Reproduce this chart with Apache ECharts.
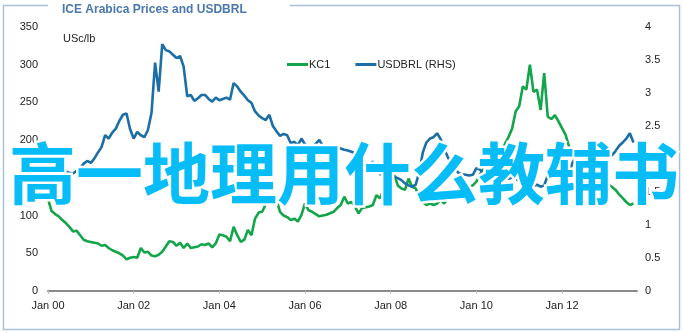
<!DOCTYPE html>
<html>
<head>
<meta charset="utf-8">
<script src="https://cdn.jsdelivr.net/npm/echarts@6/dist/echarts.min.js"></script>
<style>html,body{margin:0;padding:0;background:#fff}#c{width:683px;height:333px}</style>
</head>
<body>
<div id="c"></div>
<script>
// ---- data (monthly, Jan 2000 - Sep 2013) ----
const titleText = 'ICE Arabica Prices and USDBRL';
const overlayText = '高一地理用什么教辅书';
const unitLabel = 'USc/lb';
const seriesNames = ['KC1', 'USDBRL (RHS)'];
const tickLabels = ['Jan 00', 'Jan 02', 'Jan 04', 'Jan 06', 'Jan 08', 'Jan 10', 'Jan 12'];
const monthNames = ['Jan','Feb','Mar','Apr','May','Jun','Jul','Aug','Sep','Oct','Nov','Dec'];

const kc1 = [
  122,106,102,99,94,90,85,79,80,74,68,66,
  65,64,63,60,61,57,54,52,50,47,42,44,
  45,44,57,51,52,47,46,48,52,59,66,65,
  60,64,57,63,57,58,59,62,61,63,58,63,
  75,74,72,66,85,74,65,68,81,74,96,104,
  105,115,127,125,121,105,100,98,94,96,92,101,
  116,107,105,102,99,100,101,103,105,110,114,125,
  116,118,112,103,110,111,112,114,127,123,134,136,
  146,154,140,136,134,149,138,136,125,118,114,116,
  114,116,121,116,123,125,124,129,132,134,138,140,
  145,154,163,162,165,170,176,183,195,204,215,238,
  245,271,267,300,264,267,240,289,231,228,233,225,
  216,207,191,178,169,171,168,162,158,155,150,149,
  147,141,138,134,128,123,118,114,116
];
const usdbrl = [
  1.80,1.78,1.76,1.75,1.79,1.81,1.79,1.78,1.82,1.86,1.93,1.97,
  1.94,2.01,2.10,2.18,2.36,2.31,2.40,2.46,2.58,2.67,2.69,2.45,
  2.31,2.41,2.36,2.33,2.44,2.70,3.46,3.02,3.74,3.65,3.63,3.58,
  3.53,3.56,3.40,2.95,2.97,2.88,2.92,2.97,2.97,2.91,2.87,2.93,
  2.89,2.91,2.93,2.90,3.15,3.10,3.02,2.96,2.89,2.85,2.72,2.66,
  2.62,2.59,2.67,2.50,2.42,2.35,2.38,2.36,2.24,2.26,2.21,2.31,
  2.22,2.19,2.17,2.23,2.29,2.19,2.19,2.17,2.18,2.17,2.16,2.14,
  2.13,2.11,2.09,2.06,1.93,1.91,1.92,1.96,1.85,1.77,1.76,1.78,
  1.75,1.73,1.71,1.68,1.63,1.60,1.58,1.61,1.80,2.10,2.25,2.31,
  2.33,2.39,2.30,2.15,2.03,1.93,1.85,1.79,1.77,1.76,1.75,1.76,
  1.86,1.84,1.78,1.78,1.76,1.80,1.78,1.75,1.72,1.70,1.72,1.70,
  1.67,1.67,1.66,1.61,1.59,1.61,1.58,1.60,1.75,1.77,1.79,1.84,
  1.79,1.72,1.80,1.95,2.03,2.06,2.03,2.03,2.04,2.06,2.04,2.05,
  2.03,2.00,2.06,2.12,2.20,2.25,2.31,2.39,2.25
];

// month categories Jan 00 .. Oct 13 (axis runs a little past the data)
const categories = [];
for (let y = 0; y < 14; y++) {
  for (let m = 0; m < 12; m++) {
    categories.push(monthNames[m] + ' ' + String(y).padStart(2, '0'));
  }
}
categories.length = 166;

const showTick = (idx, val) => tickLabels.indexOf(val) >= 0;

const chart = echarts.init(document.getElementById('c'), null, {renderer: 'canvas'});
chart.setOption({
  animation: false,
  backgroundColor: '#ffffff',
  grid: {left: 48, right: 46, top: 27, bottom: 42, containLabel: false},
  legend: {
    data: seriesNames,
    left: 282, top: 54,
    icon: 'rect',
    itemWidth: 21, itemHeight: 3, itemGap: 25,
    textStyle: {fontFamily: 'Liberation Sans, Arial, sans-serif', fontSize: 11, color: '#222', padding: [0, 0, 0, -4]}
  },
  xAxis: {
    type: 'category',
    data: categories,
    boundaryGap: false,
    axisLine: {lineStyle: {color: '#8a8a8a', width: 2}},
    axisTick: {show: true, interval: showTick, length: 3, lineStyle: {color: '#c0c0c0'}},
    axisLabel: {interval: showTick, color: '#222', fontSize: 11, margin: 9,
      fontFamily: 'Liberation Sans, Arial, sans-serif'},
    splitLine: {show: false}
  },
  yAxis: [
    {type: 'value', min: 0, max: 350, interval: 50, position: 'left',
      axisLine: {show: false}, axisTick: {show: false}, splitLine: {show: false},
      axisLabel: {color: '#222', fontSize: 11, margin: 10, fontFamily: 'Liberation Sans, Arial, sans-serif'}},
    {type: 'value', min: 0, max: 4, interval: 0.5, position: 'right',
      axisLine: {show: false}, axisTick: {show: false}, splitLine: {show: false},
      axisLabel: {color: '#222', fontSize: 11, margin: 8, fontFamily: 'Liberation Sans, Arial, sans-serif'}}
  ],
  series: [
    {name: seriesNames[0], type: 'line', yAxisIndex: 0, data: kc1, symbol: 'none',
      lineStyle: {color: '#12a54a', width: 2.6}, itemStyle: {color: '#12a54a'}},
    {name: seriesNames[1], type: 'line', yAxisIndex: 1, data: usdbrl, symbol: 'none',
      lineStyle: {color: '#1b6ea6', width: 2.6}, itemStyle: {color: '#1b6ea6'}}
  ],
  graphic: [
    {type: 'rect', z: 1, shape: {x: 3.5, y: 5.5, width: 676, height: 324},
      style: {fill: null, stroke: '#a9c0d9', lineWidth: 1.5}},
    {type: 'rect', z: 2, shape: {x: 48, y: 1, width: 242, height: 9},
      style: {fill: '#ffffff'}},
    {type: 'text', z: 3, x: 62, y: 10,
      style: {text: titleText, fill: '#4a78ae', font: 'bold 12px "Liberation Sans", Arial, sans-serif',
        verticalAlign: 'middle', align: 'left'}},
    {type: 'text', z: 3, x: 63, y: 39,
      style: {text: unitLabel, fill: '#222', font: '11px "Liberation Sans", Arial, sans-serif',
        verticalAlign: 'middle', align: 'left'}},
    {type: 'text', z: 100, x: 344, y: 174,
      style: {text: overlayText, fill: '#ffffff', stroke: '#ffffff', lineWidth: 5,
        font: 'bold 67px "Noto Sans CJK SC", sans-serif', align: 'center', verticalAlign: 'middle'}},
    {type: 'text', z: 101, x: 344, y: 174,
      style: {text: overlayText, fill: '#06bdf8',
        font: 'bold 67px "Noto Sans CJK SC", sans-serif', align: 'center', verticalAlign: 'middle'}}
  ]
});
</script>
</body>
</html>
